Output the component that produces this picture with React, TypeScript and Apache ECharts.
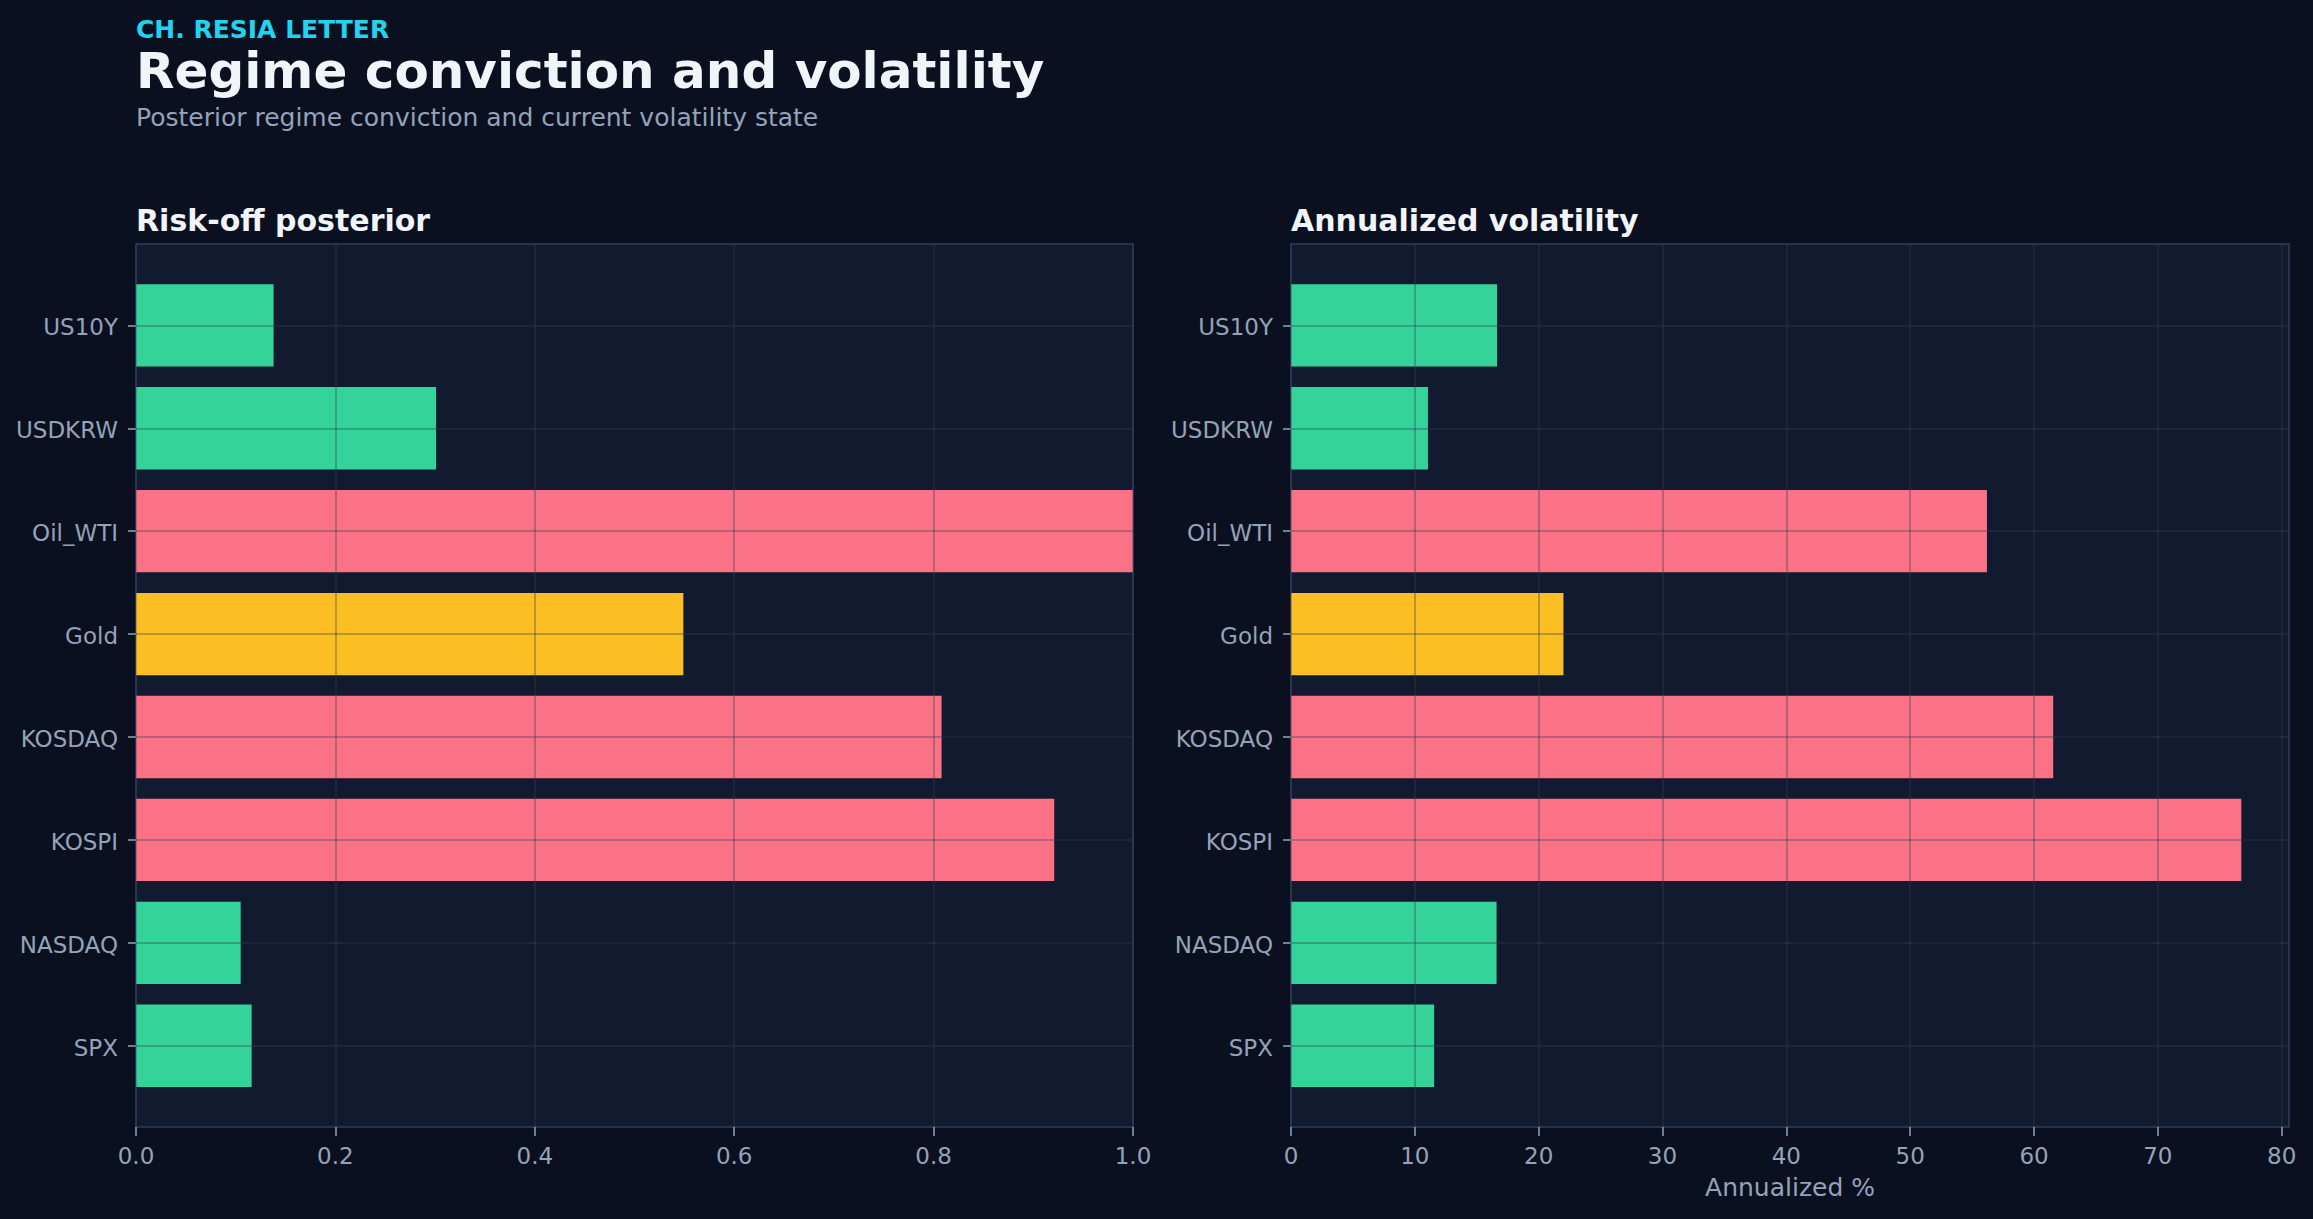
import React, { useEffect, useRef } from "react";
import * as echarts from "echarts";

// ---- data ----
const categories = ["US10Y", "USDKRW", "Oil_WTI", "Gold", "KOSDAQ", "KOSPI", "NASDAQ", "SPX"];
const riskOffPosterior = [0.138, 0.301, 1.0, 0.549, 0.808, 0.921, 0.105, 0.116];
const annualizedVol = [16.64, 11.06, 56.2, 22.0, 61.55, 76.74, 16.6, 11.56];
const regimeState = ["low", "low", "high", "mixed", "high", "high", "low", "low"];
const posteriorTicks = [0, 0.2, 0.4, 0.6, 0.8, 1.0];
const volTicks = [0, 10, 20, 30, 40, 50, 60, 70, 80];
const posteriorMax = 1.0;
const volMax = 80.59;

// ---- style ----
const BG = "#0b1020";
const PLOT_BG = "#121a2f";
const SPINE = "#2f3d5c";
const GRID = "rgba(51,65,85,0.45)";
const TEXT = "#94a3b8";
const WHITE = "#f1f5f9";
const CYAN = "#22d3ee";
const FONT = "'DejaVu Sans', sans-serif";
const stateColor: Record<string, string> = {
  low: "#34d399",
  high: "#fb7185",
  mixed: "#fbbf24",
};

const W = 2313;
const H = 1219;
const PLOT_TOP = 244;
const PLOT_H = 883;
const BAR_TOP = 273.9;
const BAR_H = 823.3;
const L_LEFT = 136;
const L_W = 997;
const R_LEFT = 1291;
const R_W = 998;

function barSeries(values: number[], axisIdx: number) {
  return {
    type: "bar",
    xAxisIndex: axisIdx,
    yAxisIndex: axisIdx,
    barWidth: "80%",
    z: 2,
    data: values.map((v, i) => ({
      value: v,
      itemStyle: { color: stateColor[regimeState[i]] },
    })),
    markLine: {
      silent: true,
      symbol: ["none", "none"],
      label: { show: false },
      z: 5,
      lineStyle: { color: GRID, width: 1.5, type: "solid" },
      emphasis: { disabled: true },
      data: categories.map((c) => ({ yAxis: c })),
    },
  };
}

function catAxis(gridIndex: number) {
  return {
    gridIndex,
    type: "category",
    inverse: true,
    data: categories,
    axisLine: { show: false },
    axisTick: { show: true, length: 8, alignWithLabel: true, lineStyle: { color: TEXT, width: 1.5 } },
    axisLabel: {
      margin: 18,
      color: TEXT,
      formatter: (v: string) => `{t|${v}}`,
      rich: { t: { fontSize: 23, color: TEXT, fontFamily: FONT, padding: [4, 0, 0, 0] } },
    },
    splitLine: { show: false },
  };
}

export default function App() {
  const ref = useRef<HTMLDivElement>(null);
  useEffect(() => {
    if (!ref.current) return;
    document.body.style.margin = "0";
    document.body.style.background = BG;
    const chart = echarts.init(ref.current, undefined, { renderer: "svg" });
    const option: any = {
      animation: false,
      backgroundColor: BG,
      textStyle: { fontFamily: FONT },
      grid: [
        { left: L_LEFT, top: PLOT_TOP, width: L_W, height: PLOT_H, show: true, backgroundColor: PLOT_BG, borderColor: SPINE, borderWidth: 1.5 },
        { left: L_LEFT, top: BAR_TOP, width: L_W, height: BAR_H },
        { left: R_LEFT, top: PLOT_TOP, width: R_W, height: PLOT_H, show: true, backgroundColor: PLOT_BG, borderColor: SPINE, borderWidth: 1.5 },
        { left: R_LEFT, top: BAR_TOP, width: R_W, height: BAR_H },
      ],
      xAxis: [
        {
          gridIndex: 0,
          type: "value",
          min: 0,
          max: posteriorMax,
          z: 5,
          axisLine: { show: false },
          axisTick: { show: true, length: 9, lineStyle: { color: TEXT, width: 1.5 }, customValues: posteriorTicks },
          axisLabel: { margin: 17, fontSize: 23, color: TEXT, fontFamily: FONT, customValues: posteriorTicks, formatter: (v: number) => v.toFixed(1) },
          splitLine: { show: true, lineStyle: { color: GRID, width: 1.5 } },
        },
        { gridIndex: 1, type: "value", min: 0, max: posteriorMax, show: false, splitLine: { show: false } },
        {
          gridIndex: 2,
          type: "value",
          min: 0,
          max: volMax,
          z: 5,
          name: "Annualized %",
          nameLocation: "middle",
          nameGap: 48,
          nameTextStyle: { fontSize: 25, color: TEXT, fontFamily: FONT },
          axisLine: { show: false },
          axisTick: { show: true, length: 9, lineStyle: { color: TEXT, width: 1.5 }, customValues: volTicks },
          axisLabel: { margin: 17, fontSize: 23, color: TEXT, fontFamily: FONT, customValues: volTicks, formatter: (v: number) => String(Math.round(v)) },
          splitLine: { show: true, lineStyle: { color: GRID, width: 1.5 } },
        },
        { gridIndex: 3, type: "value", min: 0, max: volMax, show: false, splitLine: { show: false } },
      ],
      yAxis: [
        { gridIndex: 0, type: "value", min: 0, max: 1, show: false, splitLine: { show: false } },
        catAxis(1),
        { gridIndex: 2, type: "value", min: 0, max: 1, show: false, splitLine: { show: false } },
        catAxis(3),
      ],
      series: [barSeries(riskOffPosterior, 1), barSeries(annualizedVol, 3)],
      graphic: [
        { type: "text", x: 136, y: 29, style: { text: "CH. RESIA LETTER", fill: CYAN, fontSize: 25, fontWeight: "bold", fontFamily: FONT, align: "left", verticalAlign: "middle" } },
        { type: "text", x: 136, y: 71, style: { text: "Regime conviction and volatility", fill: WHITE, fontSize: 50, fontWeight: "bold", fontFamily: FONT, align: "left", verticalAlign: "middle" } },
        { type: "text", x: 136, y: 117, style: { text: "Posterior regime conviction and current volatility state", fill: TEXT, fontSize: 25, fontFamily: FONT, align: "left", verticalAlign: "middle" } },
        { type: "text", x: 136, y: 220, style: { text: "Risk-off posterior", fill: WHITE, fontSize: 30, fontWeight: "bold", fontFamily: FONT, align: "left", verticalAlign: "middle" } },
        { type: "text", x: 1291, y: 220, style: { text: "Annualized volatility", fill: WHITE, fontSize: 30, fontWeight: "bold", fontFamily: FONT, align: "left", verticalAlign: "middle" } },
      ],
    };
    chart.setOption(option);
    return () => chart.dispose();
  }, []);
  return <div ref={ref} style={{ position: "absolute", left: 0, top: 0, width: W, height: H }} />;
}
